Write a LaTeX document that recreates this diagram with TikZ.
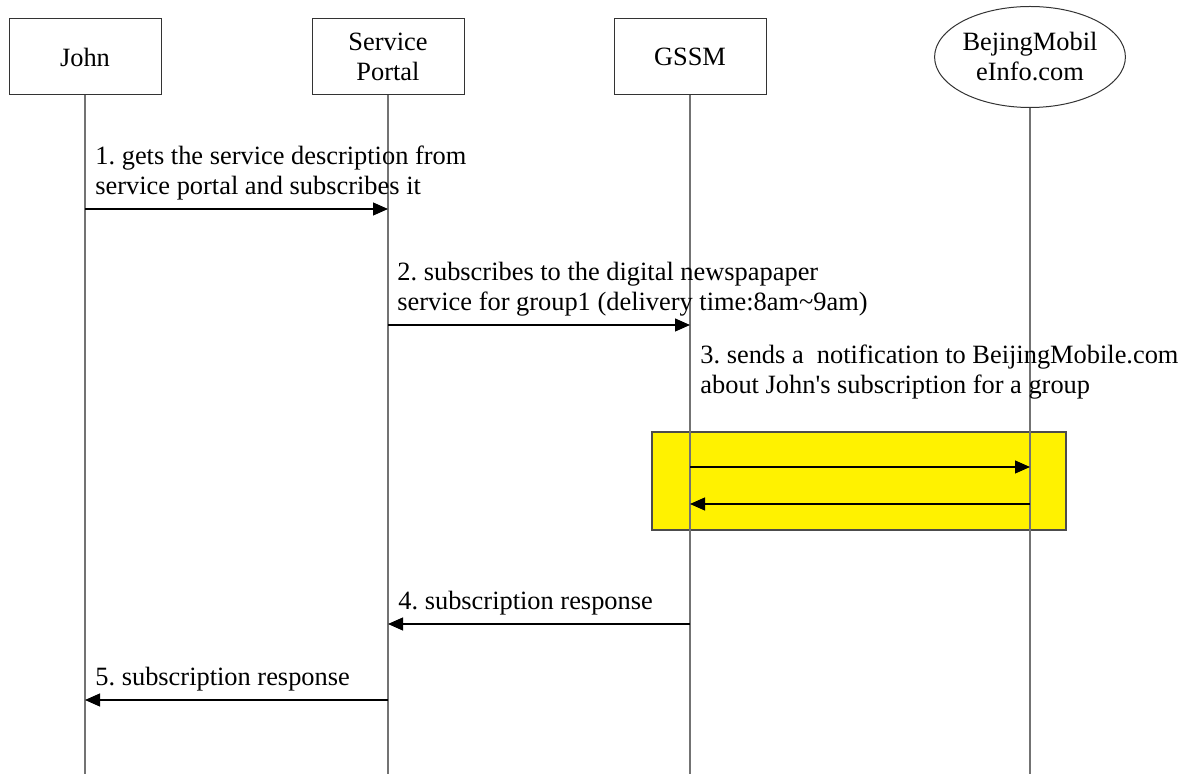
\documentclass[tikz,border=0pt]{standalone}
\usepackage{fontspec}
\setmainfont{Liberation Serif}
\usetikzlibrary{arrows.meta,shapes.geometric}
\frenchspacing
\begin{document}
\begin{tikzpicture}[>={Triangle[length=7.5pt,width=6.5pt]},x=0.5pt,y=-0.5pt,
    actor/.style={draw=black!80,line width=0.5pt,minimum width=76pt,minimum height=38pt,align=center,font=\fontsize{13.2}{15}\selectfont},
    lifeline/.style={draw=black!55,line width=0.6pt},
    msg/.style={->,line width=0.6pt},
    lbl/.style={anchor=south west,inner sep=0pt,align=left,font=\fontsize{13.2}{15}\selectfont}]
    \def\h{774}%chiều cao
    \useasboundingbox (0,0) rectangle (1189,\h);
    \fill[yellow,draw=black!70,line width=0.6pt] (652,432) rectangle (1066,530);
    \node[actor] (john) at (85,57) {John};
    \node[actor] (portal) at (388,57) {Service\\Portal};
    \node[actor] (gssm) at (690,57) {GSSM};
    \node[actor,ellipse,minimum width=95pt,minimum height=50.5pt,inner sep=0pt] (bmi) at (1030,57) {BejingMobil\\eInfo.com};
    \foreach \n/\x in {j/85,p/388,g/690,b/1030}{
        \foreach \r/\y in {1/209,2/325,3/467,4/504,5/624,6/700}
        \coordinate (\n\r) at (\x,\y);
        \coordinate (\n E) at (\x,\h);
    }
    \draw[lifeline] (john)--(jE);
    \draw[lifeline] (portal)--(pE);
    \draw[lifeline] (gssm)--(gE);
    \draw[lifeline] (bmi)--(bE);
    \draw[msg] (j1)--(p1);
    \draw[msg] (p2)--(g2);
    \draw[msg] (g3)--(b3);
    \draw[msg] (b4)--(g4);
    \draw[msg] (g5)--(p5);
    \draw[msg] (p6)--(j6);
    \path
    ([shift={(10,-8)}]j1) node[lbl] (t1) {1. gets the service description from\\service portal and subscribes it}
    ([shift={(9,-8)}]p2) node[lbl] (t2) {2. subscribes to the digital newspapaper\\service for group1 (delivery time:8am\textasciitilde9am)}
    ([shift={(10,-67)}]g3) node[lbl] (t3) {3. sends a\ \ notification to BeijingMobile.com\\about John\textquotesingle s subscription for a group}
    ([shift={(10,-8)}]p5) node[lbl] (t4) {4. subscription response}
    ([shift={(10,-8)}]j6) node[lbl] (t5) {5. subscription response}
    ;
\end{tikzpicture}
\end{document}
